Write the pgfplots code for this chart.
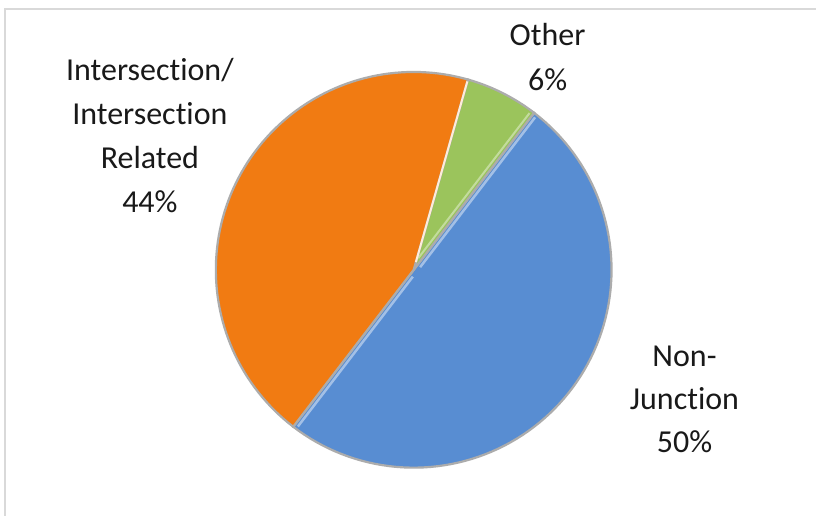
\documentclass[border=0pt]{standalone}
\usepackage{pgfplots}
\pgfplotsset{compat=1.18}
\usepackage{pgfplotstable}
\usepackage{fontspec}
\setmainfont{Carlito}[Ligatures={NoCommon}]
\definecolor{cblue}{RGB}{88,141,210}
\definecolor{corange}{RGB}{241,123,18}
\definecolor{cgreen}{RGB}{155,196,92}
\definecolor{ctext}{RGB}{25,25,25}
\pgfplotstableread{
slice value
NonJunction 50
Other 6
Intersection 44
}\piedata
\begin{document}
\begin{tikzpicture}
\pgfplotstablegetelem{0}{value}\of\piedata \let\vB\pgfplotsretval
\pgfplotstablegetelem{1}{value}\of\piedata \let\vG\pgfplotsretval
\pgfplotstablegetelem{2}{value}\of\piedata \let\vO\pgfplotsretval
\pgfmathsetmacro\aStart{52.5}
\pgfmathsetmacro\aBlueEnd{\aStart-3.6*\vB}
\pgfmathsetmacro\aGreenEnd{\aStart+3.6*\vG}
\pgfmathsetmacro\aOrangeEnd{\aGreenEnd+3.6*\vO}
\begin{axis}[scale only axis, width=817pt, height=516pt,
  xmin=0, xmax=817, ymin=0, ymax=516, y dir=reverse,
  hide axis, clip=false]
\addplot[draw=none, fill=white] coordinates {(0,0) (817,0) (817,516) (0,516)} -- cycle;
\addplot[gray!30, line width=1.2pt] coordinates {(5,516) (5,9) (817,9)};
% slices
\addplot[fill=cblue, draw=gray!65, line width=2.2pt, domain=\aBlueEnd:\aStart, samples=90, variable=\t]
  ({414+198*cos(\t)},{270-198*sin(\t)}) -- (axis cs:414,270) -- cycle;
\addplot[fill=cgreen, draw=gray!65, line width=2.2pt, domain=\aStart:\aGreenEnd, samples=20, variable=\t]
  ({414+198*cos(\t)},{270-198*sin(\t)}) -- (axis cs:414,270) -- cycle;
\addplot[fill=corange, draw=gray!65, line width=2.2pt, domain=\aGreenEnd:\aOrangeEnd, samples=90, variable=\t]
  ({414+198*cos(\t)},{270-198*sin(\t)}) -- (axis cs:414,270) -- cycle;
% bevel highlights on the straight edges
\addplot[cblue!55!white, line width=2.5pt, domain=6:195, samples=2, variable=\s]
  ({414+\s*cos(\aStart)+3.5*cos(\aStart-90)},{270-\s*sin(\aStart)-3.5*sin(\aStart-90)});
\addplot[cblue!55!white, line width=2.5pt, domain=6:195, samples=2, variable=\s]
  ({414+\s*cos(\aBlueEnd)+3.5*cos(\aBlueEnd+90)},{270-\s*sin(\aBlueEnd)-3.5*sin(\aBlueEnd+90)});
\addplot[cgreen!60!white, line width=2pt, domain=12:195, samples=2, variable=\s]
  ({414+\s*cos(\aStart)+3.5*cos(\aStart+90)},{270-\s*sin(\aStart)-3.5*sin(\aStart+90)});
\addplot[white!85!orange, line width=2pt, domain=8:196, samples=2, variable=\s]
  ({414+\s*cos(\aGreenEnd)},{270-\s*sin(\aGreenEnd)});
% labels
\node[anchor=base, align=center, text=ctext, font=\fontsize{32}{44}\selectfont] at (axis cs:150,213) {Intersection/\\Intersection\\Related\\44\%};
\node[anchor=base, align=center, text=ctext, font=\fontsize{32}{45}\selectfont] at (axis cs:548,91) {Other\\6\%};
\node[anchor=base, align=center, text=ctext, font=\fontsize{32}{43}\selectfont] at (axis cs:685,453) {Non-\\Junction\\50\%};
\end{axis}
\end{tikzpicture}
\end{document}
